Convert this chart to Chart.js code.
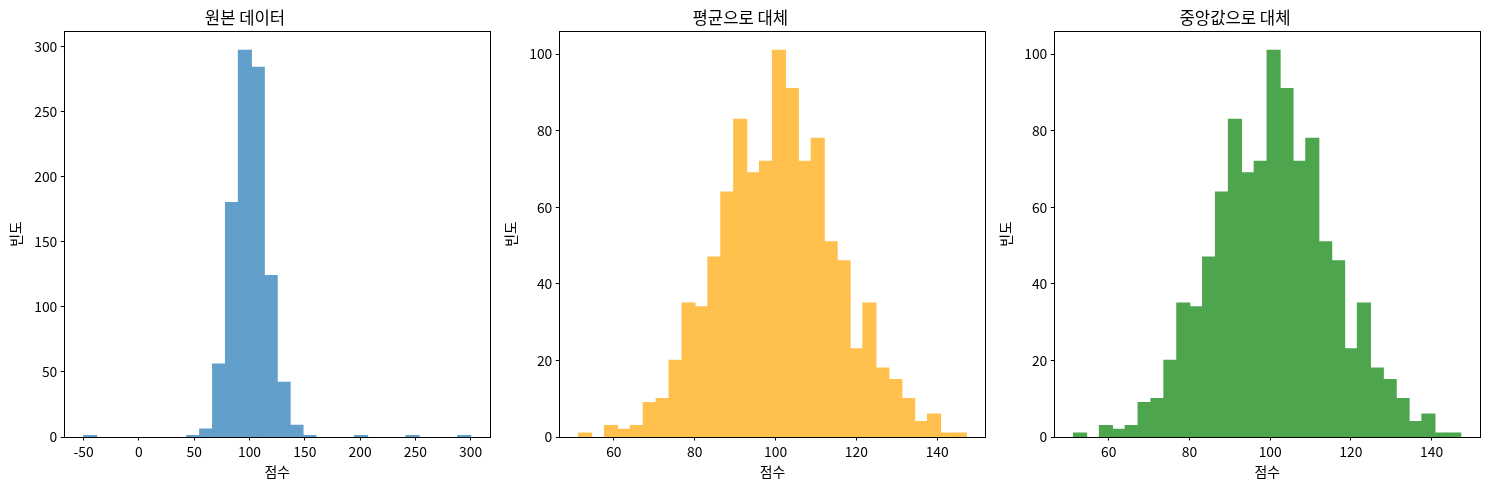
<!DOCTYPE html>
<html>
<head>
<meta charset="utf-8">
<script src="https://cdn.jsdelivr.net/npm/chart.js@4"></script>
<style>
  html, body { margin: 0; padding: 0; background: #fff; }
  #wrap { position: relative; width: 1489px; height: 490px; }
  .panel { position: absolute; top: 0; height: 490px; }
</style>
</head>
<body>
<div id="wrap">
  <div class="panel" style="left:0;width:495px"><canvas id="c1"></canvas></div>
  <div class="panel" style="left:495px;width:495px"><canvas id="c2"></canvas></div>
  <div class="panel" style="left:990px;width:499px"><canvas id="c3"></canvas></div>
</div>
<script>
// 히스토그램 데이터 (30개 구간)
const titles = ['원본 데이터', '평균으로 대체', '중앙값으로 대체'];

// 원본 데이터
const origRange = [-50, 300];
const origCounts = [1, 0, 0, 0, 0, 0, 0, 0, 1, 6, 56, 180, 297, 284, 124, 42, 9, 1, 0, 0, 0, 1, 0, 0, 0, 1, 0, 0, 0, 1];

// 평균으로 대체
const meanRange = [51.3, 147.2];
const meanCounts = [1, 0, 3, 2, 3, 9, 10, 20, 35, 34, 47, 64, 83, 69, 72, 101, 91, 72, 78, 51, 46, 23, 35, 18, 15, 10, 4, 6, 1, 1];

// 중앙값으로 대체
const medianRange = [51.3, 147.2];
const medianCounts = [1, 0, 3, 2, 3, 9, 10, 20, 35, 34, 47, 64, 83, 69, 72, 101, 91, 72, 78, 51, 46, 23, 35, 18, 15, 10, 4, 6, 1, 1];

// 눈금
const xTicks1 = [-50, 0, 50, 100, 150, 200, 250, 300];
const yTicks1 = [0, 50, 100, 150, 200, 250, 300];
const xTicks2 = [60, 80, 100, 120, 140];
const yTicks2 = [0, 20, 40, 60, 80, 100];

const FONT = "'Noto Sans CJK KR', 'Noto Sans', sans-serif";

// 테두리 (matplotlib 스타일 박스)
const frame = {
  id: 'frame',
  afterDraw(chart) {
    const a = chart.chartArea;
    const ctx = chart.ctx;
    ctx.save();
    ctx.strokeStyle = '#000';
    ctx.lineWidth = 1;
    ctx.strokeRect(Math.round(a.left) + 0.5, Math.round(a.top) + 0.5,
      Math.round(a.right - a.left), Math.round(a.bottom - a.top));
    ctx.restore();
  }
};

function makeHist(id, title, range, counts, color, xTicks, yTicks, rightPad) {
  const n = counts.length;
  const w = (range[1] - range[0]) / n;
  const points = counts.map((c, i) => ({ x: range[0] + w * (i + 0.5), y: c }));
  const span = range[1] - range[0];
  const yMax = Math.max(...counts) * 1.05;

  new Chart(document.getElementById(id), {
    type: 'bar',
    data: {
      datasets: [{
        data: points,
        backgroundColor: color,
        borderWidth: 0,
        // 막대 사이 틈 제거 (빈 구간은 부풀리지 않음)
        inflateAmount: ctx => (ctx.raw && ctx.raw.y > 0 ? 0.6 : 0),
        barPercentage: 1.0,
        categoryPercentage: 1.0
      }]
    },
    options: {
      responsive: true,
      maintainAspectRatio: false,
      animation: false,
      layout: { padding: { top: 0, right: rightPad, bottom: 0, left: 0 } },
      plugins: {
        legend: { display: false },
        tooltip: { enabled: false },
        title: {
          display: true,
          text: title,
          color: '#000',
          font: { family: FONT, size: 16.67, weight: 'normal' },
          padding: { top: 8, bottom: 3 }
        }
      },
      scales: {
        x: {
          type: 'linear',
          offset: false,
          min: range[0] - span * 0.05,
          max: range[1] + span * 0.05,
          afterBuildTicks: s => { s.ticks = xTicks.map(v => ({ value: v })); },
          afterFit: s => { s.height = 53; },
          grid: { display: true, offset: false, drawOnChartArea: false, drawTicks: true, tickLength: 3.5, color: '#000', tickWidth: 1 },
          border: { display: true, color: '#000', width: 1 },
          ticks: { color: '#000', padding: 3, maxRotation: 0, autoSkip: false, font: { family: FONT, size: 13.89 } },
          title: { display: true, text: '점수', color: '#000', font: { family: FONT, size: 13.89 }, padding: { top: 0, bottom: 10 } }
        },
        y: {
          min: 0,
          max: yMax,
          afterBuildTicks: s => { s.ticks = yTicks.map(v => ({ value: v })); },
          afterFit: s => { s.width = 64.3; },
          grid: { display: true, offset: false, drawOnChartArea: false, drawTicks: true, tickLength: 3.5, color: '#000', tickWidth: 1 },
          border: { display: true, color: '#000', width: 1 },
          ticks: { color: '#000', padding: 3.5, font: { family: FONT, size: 13.89 } },
          title: { display: true, text: '빈도', color: '#000', font: { family: FONT, size: 13.89 }, padding: { top: 7, bottom: 0 } }
        }
      }
    },
    plugins: [frame]
  });
}

// alpha 0.7 색상을 흰 배경 위 불투명색으로
makeHist('c1', titles[0], origRange, origCounts, 'rgb(98, 160, 203)', xTicks1, yTicks1, 5);
makeHist('c2', titles[1], meanRange, meanCounts, 'rgb(255, 192, 77)', xTicks2, yTicks2, 4.3);
makeHist('c3', titles[2], medianRange, medianCounts, 'rgb(77, 166, 77)', xTicks2, yTicks2, 9);
</script>
</body>
</html>
